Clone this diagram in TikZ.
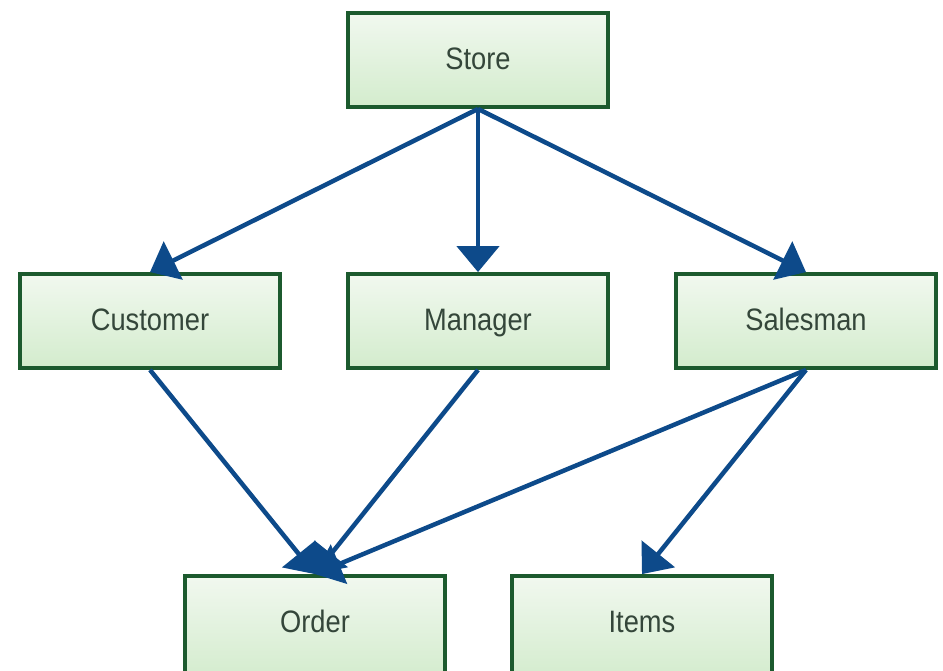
\documentclass[tikz,border=0pt]{standalone}
\usepackage{fontspec}
\setmainfont{Liberation Sans}[FakeStretch=0.88]
\usetikzlibrary{arrows.meta}
\definecolor{boxtop}{HTML}{F1F8EF}
\definecolor{boxbot}{HTML}{D3ECCD}
\definecolor{boxline}{HTML}{1C5A2E}
\definecolor{arrowblue}{HTML}{0D4A8A}
\definecolor{txt}{HTML}{34463A}
\begin{document}
\begin{tikzpicture}[x=1pt,y=-1pt,
  entity/.style={draw=boxline, line width=3.8pt, top color=boxtop, bottom color=boxbot,
    minimum width=260pt, minimum height=94pt, inner sep=0pt,
    text height=22pt, text depth=3pt,
    font=\fontsize{31}{34}\selectfont, text=txt},
  lowentity/.style={entity, minimum height=104pt, text depth=14pt},
  link/.style={draw=arrowblue, line width=4.5pt, -{Triangle[length=26pt,width=42pt]}}]
\useasboundingbox (0,0) rectangle (943,670);
\clip (0,0) rectangle (943,670);
\fill[white] (0,0) rectangle (943,670);
\node[entity] (store) at (478,60) {Store};
\node[entity] (customer) at (150,321) {Customer};
\node[entity] (manager) at (478,321) {Manager};
\node[entity] (salesman) at (806,321) {Salesman};
\node[lowentity] (order) at (315,628) {Order};
\node[lowentity] (items) at (642,628) {Items};
\draw[link] (store.south) -- (customer.north);
\draw[link] (store.south) -- (manager.north);
\draw[link] (store.south) -- (salesman.north);
\draw[link] (customer.south) -- (order.north);
\draw[link] (manager.south) -- (order.north);
\draw[link] (salesman.south) -- (order.north);
\draw[link] (salesman.south) -- (items.north);
\end{tikzpicture}
\end{document}
